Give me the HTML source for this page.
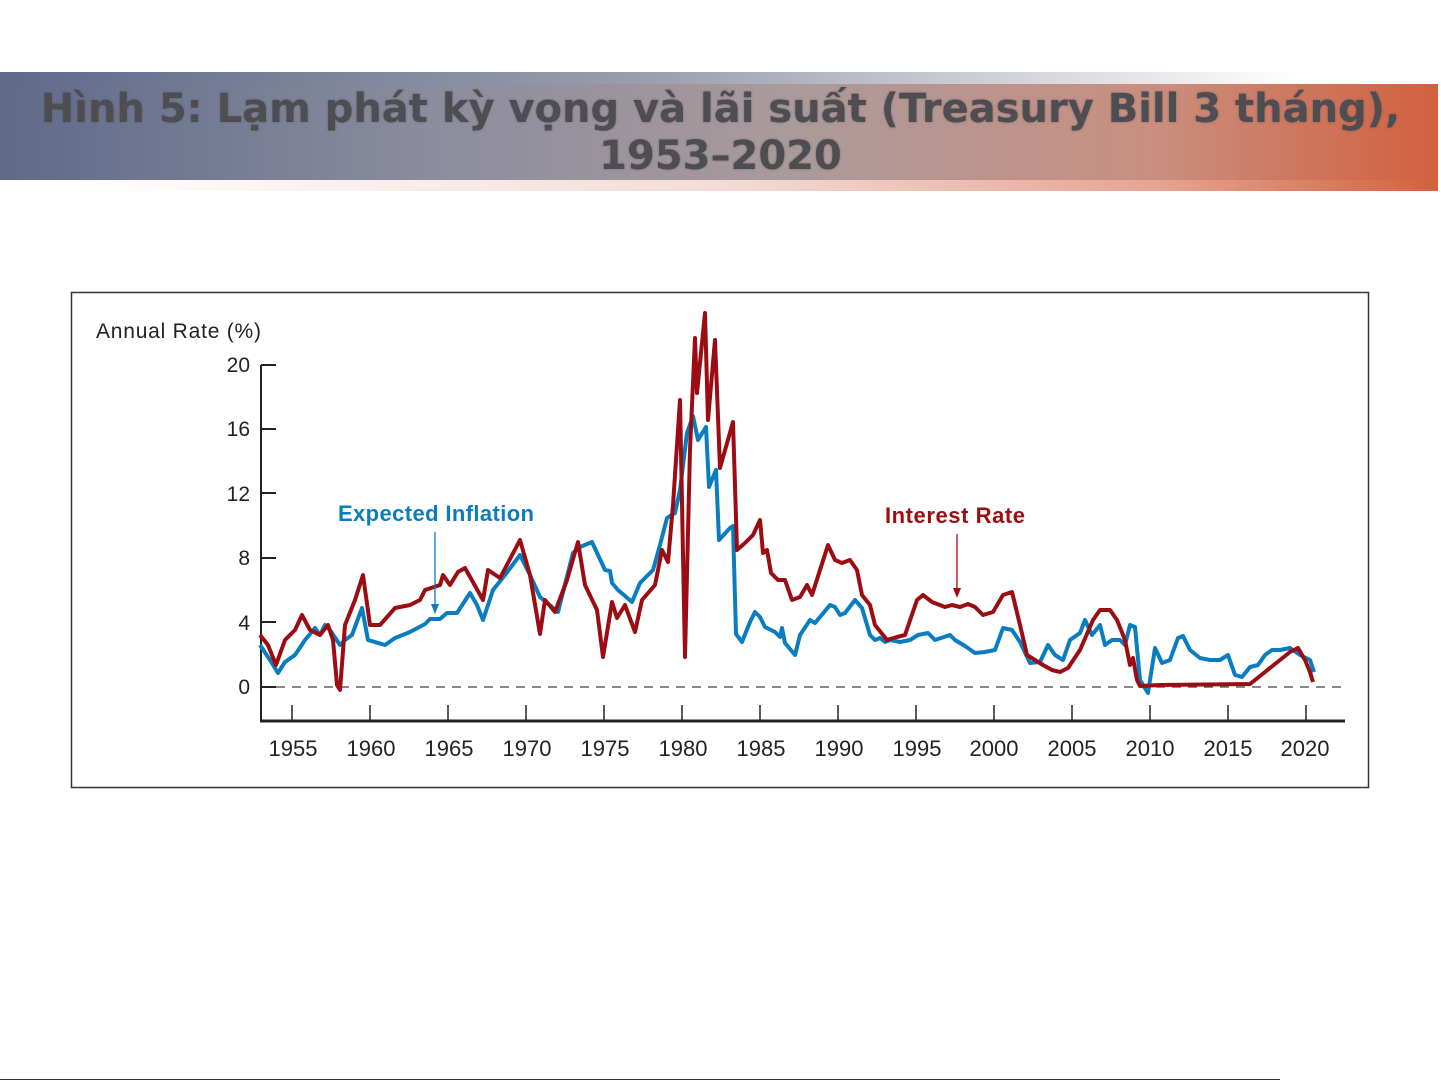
<!DOCTYPE html>
<html><head><meta charset="utf-8"><style>
body{margin:0;background:#fff;width:1441px;height:1081px;overflow:hidden;position:relative;font-family:"Liberation Sans",sans-serif}
.top{position:absolute;left:0;top:72px;width:1441px;height:13px;background:linear-gradient(90deg,#5f6a8a 0%,#9a9eae 45%,#e8e8ea 80%,#fff 90%)}
.band{position:absolute;left:0;top:84px;width:1438px;height:96px;background:linear-gradient(90deg,#5f6a8a 0%,#8b8d9e 30%,#ab9a9c 55%,#c98f80 80%,#d2613f 100%)}
.bot{position:absolute;left:0;top:180px;width:1438px;height:11px;background:linear-gradient(90deg,#fff 5%,#f3dcd6 50%,#e6a593 80%,#d2613f 100%)}
.title{position:absolute;left:0;top:86px;width:1441px;text-align:center;font-family:"DejaVu Sans",sans-serif;font-weight:bold;font-size:40px;line-height:47px;color:#4e4e52;text-shadow:0 0 2px rgba(80,80,80,.6)}
</style></head><body>
<div class="top"></div><div class="band"></div><div class="bot"></div>
<div class="title">Hình 5: Lạm phát kỳ vọng và lãi suất (Treasury Bill 3 tháng),<br>1953–2020</div>
<svg width="1441" height="1081" style="position:absolute;left:0;top:0" font-family="Liberation Sans, sans-serif">
<rect x="71.5" y="292.5" width="1297" height="495" fill="none" stroke="#333" stroke-width="1.5"/>
<text x="96" y="338" font-size="21" fill="#222" textLength="165">Annual Rate (%)</text>
<g font-size="21" fill="#222" text-anchor="end">
<text x="250" y="372">20</text><text x="250" y="436">16</text><text x="250" y="501">12</text><text x="250" y="565">8</text><text x="250" y="630">4</text><text x="250" y="694">0</text></g>
<g stroke="#222" stroke-width="2">
<line x1="261" y1="365" x2="261" y2="721"/>
<line x1="261" y1="365" x2="276" y2="365"/><line x1="261" y1="429" x2="276" y2="429"/><line x1="261" y1="493" x2="276" y2="493"/><line x1="261" y1="558" x2="276" y2="558"/><line x1="261" y1="622" x2="276" y2="622"/><line x1="261" y1="687" x2="276" y2="687"/>
<line x1="260" y1="721" x2="1345" y2="721" stroke-width="3"/>
<g stroke-width="1.5">
<line x1="292" y1="705" x2="292" y2="721"/><line x1="370" y1="705" x2="370" y2="721"/><line x1="448" y1="705" x2="448" y2="721"/><line x1="526" y1="705" x2="526" y2="721"/><line x1="604" y1="705" x2="604" y2="721"/><line x1="682" y1="705" x2="682" y2="721"/><line x1="760" y1="705" x2="760" y2="721"/><line x1="838" y1="705" x2="838" y2="721"/><line x1="916" y1="705" x2="916" y2="721"/><line x1="994" y1="705" x2="994" y2="721"/><line x1="1072" y1="705" x2="1072" y2="721"/><line x1="1150" y1="705" x2="1150" y2="721"/><line x1="1228" y1="705" x2="1228" y2="721"/><line x1="1306" y1="705" x2="1306" y2="721"/></g>
</g>
<line x1="276" y1="687" x2="1345" y2="687" stroke="#444" stroke-width="1.3" stroke-dasharray="9,7"/>
<g font-size="22" fill="#222" text-anchor="middle">
<text x="293" y="756">1955</text><text x="371" y="756">1960</text><text x="449" y="756">1965</text><text x="527" y="756">1970</text><text x="605" y="756">1975</text><text x="683" y="756">1980</text><text x="761" y="756">1985</text><text x="839" y="756">1990</text><text x="917" y="756">1995</text><text x="994" y="756">2000</text><text x="1072" y="756">2005</text><text x="1150" y="756">2010</text><text x="1228" y="756">2015</text><text x="1305" y="756">2020</text></g>
<polyline fill="none" stroke="#0a7dc0" stroke-width="4" stroke-linejoin="round" points="260,645 270,660 278,673 285,662 295,655 305,640 315,628 320,635 325,625 330,630 340,645 345,640 352,635 362,608 368,640 385,645 395,638 410,632 425,624 430,619 440,619 447,613 457,613 470,593 477,605 483,620 493,590 505,575 520,555 530,575 540,597 558,612 573,553 580,547 592,542 605,570 610,571 612,583 618,590 632,602 640,583 653,570 660,545 667,518 675,513 680,490 687,433 693,416 698,440 706,427 709,487 716,470 719,540 730,528 733,526 736,634 742,642 750,622 755,612 760,617 765,627 775,632 780,637 782,628 785,643 795,655 800,635 810,620 815,623 820,617 830,605 835,607 840,615 845,613 855,600 862,608 870,635 875,640 880,638 885,642 890,640 900,642 910,640 918,635 928,633 935,640 950,635 955,640 965,646 975,653 985,652 995,650 1003,628 1012,630 1020,642 1030,663 1040,662 1048,645 1055,655 1063,660 1070,640 1080,633 1085,620 1092,635 1100,625 1105,645 1112,640 1120,640 1125,645 1130,625 1135,627 1140,680 1148,693 1155,648 1162,663 1170,660 1178,638 1183,636 1190,650 1200,658 1210,660 1220,660 1228,655 1235,675 1242,677 1250,667 1258,665 1265,655 1272,650 1280,650 1290,648 1300,655 1310,660 1314,672"/>
<polyline fill="none" stroke="#9b0d12" stroke-width="4" stroke-linejoin="round" points="260,635 268,645 276,665 285,640 295,630 302,615 310,630 320,635 328,625 333,640 337,685 340,690 345,625 355,600 363,575 370,625 380,625 395,608 410,605 420,600 425,590 440,585 443,575 450,585 458,572 465,568 483,600 488,570 500,578 520,540 530,575 540,634 545,600 555,612 567,580 578,542 585,585 597,610 603,657 612,602 617,618 625,605 635,632 642,600 655,585 662,550 668,562 673,505 680,400 685,657 690,450 695,338 697,393 705,313 708,420 715,340 720,468 733,422 737,550 745,543 753,535 760,520 763,553 767,550 771,573 778,580 785,580 792,600 800,597 807,585 812,595 828,545 835,560 842,563 850,560 857,570 862,595 870,605 875,625 883,635 887,640 897,637 905,635 917,600 923,595 932,602 945,607 952,605 960,607 968,604 975,607 983,615 993,612 1003,595 1012,592 1020,625 1027,655 1035,660 1043,665 1052,670 1060,672 1068,668 1080,650 1093,620 1100,610 1110,610 1117,620 1125,640 1130,665 1133,658 1137,680 1140,686 1160,685 1250,684 1265,672 1280,660 1290,652 1298,648 1305,660 1310,672 1313,682"/>
<text x="338" y="521" font-size="22" font-weight="bold" fill="#0a7dc0" textLength="196">Expected Inflation</text>
<line x1="435" y1="532" x2="435" y2="610" stroke="#0a7dc0" stroke-width="1.3"/>
<polygon points="431,604 439,604 435,614" fill="#0a7dc0"/>
<text x="885" y="523" font-size="22" font-weight="bold" fill="#9b0d12" textLength="140">Interest Rate</text>
<line x1="957" y1="534" x2="957" y2="594" stroke="#9b0d12" stroke-width="1.3"/>
<polygon points="953,588 961,588 957,598" fill="#9b0d12"/>
<line x1="0" y1="1079.5" x2="1280" y2="1079.5" stroke="#333" stroke-width="1"/>
</svg>
</body></html>
